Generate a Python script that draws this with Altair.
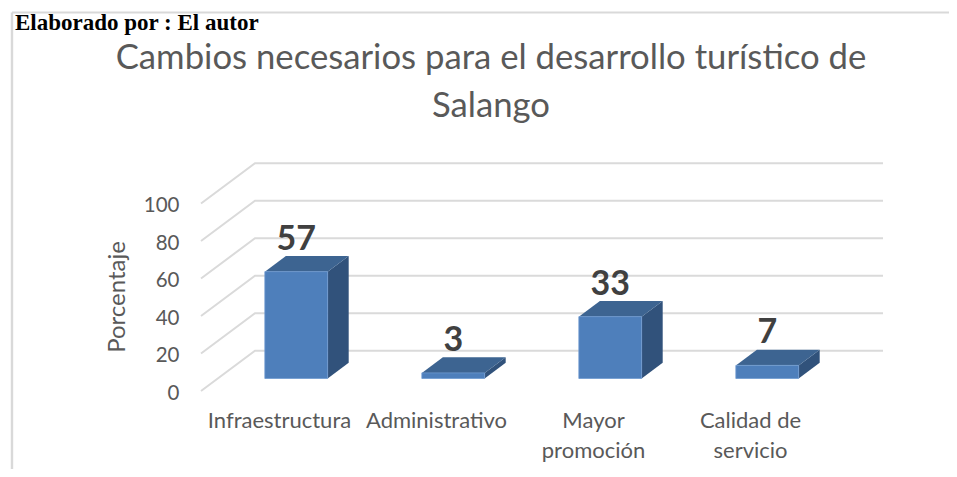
import altair as alt
import pandas as pd

categories = ["Infraestructura", "Administrativo", "Mayor promoción", "Calidad de servicio"]
category_lines = [["Infraestructura"], ["Administrativo"], ["Mayor", "promoción"], ["Calidad de", "servicio"]]
values = [57, 3, 33, 7]
y_ticks = [0, 20, 40, 60, 80, 100]

W, H = 941, 461
PX_X, PX_Y = 157.0, 1.875      # px per category, px per percent
X0, Y0 = 201 - 8, 391 - 8      # svg position of the front-floor origin
xdom = [-X0 / PX_X, (W - X0) / PX_X]
ydom = [(Y0 - H) / PX_Y, Y0 / PX_Y]
xs = alt.Scale(domain=xdom, range=[0, W], nice=False, zero=False)
ys = alt.Scale(domain=ydom, range=[H, 0], nice=False, zero=False)

# Oblique projection of the 3-D chart: shift per unit of depth
DX, DY = 54 / PX_X, 40.3 / PX_Y
BAR_DEPTH = 0.39
BAR_PLANE = 0.31
BAR_HALF = 0.2

def proj(cat, val, depth):
    return cat + depth * DX, val + depth * DY

# walls
rows = []
for t in y_ticks:
    for k, (c, d) in enumerate([(0, 0), (0, 1), (4, 1)]):
        x, y = proj(c, t, d)
        rows.append(dict(t=t, k=k, x=x, y=y))
grid = alt.Chart(pd.DataFrame(rows)).mark_line(color="#DADADA", strokeWidth=2, strokeJoin="miter").encode(
    x=alt.X("x:Q", scale=xs, axis=None),
    y=alt.Y("y:Q", scale=ys, axis=alt.Axis(
        values=y_ticks, orient="left", offset=-(179 - 8), labelPadding=0, labelOffset=2, ticks=False, domain=False, grid=False,
        labelFont="Lato", labelFontSize=20.5, labelColor="#595959", title=None)),
    detail="t:N", order="k:Q")

# bar faces
fr, side, top = [], [], []
for i, v in enumerate(values):
    c = i + 0.5
    l, r = c - BAR_HALF, c + BAR_HALF
    d0, d1 = BAR_PLANE, BAR_PLANE + BAR_DEPTH
    xa, yb = proj(l, 0, d0); xb, yt = proj(r, v, d0)
    fr.append(dict(x=xa, x2=xb, y=yb, y2=yt))
    for d in (d0, d1):
        x, y_low = proj(r, 0, d); _, y_up = proj(r, v, d)
        side.append(dict(i=i, x=x, y=y_low, y2=y_up))
        xl, yy = proj(l, v, d); xr, _ = proj(r, v, d)
        top.append(dict(i=i, x=xl, x2=xr, y=yy))

front = alt.Chart(pd.DataFrame(fr)).mark_rect(color="#4E7FBB", stroke="#6E9AD0", strokeWidth=0.8).encode(
    x=alt.X("x:Q", scale=xs, axis=None), x2="x2:Q", y=alt.Y("y:Q", scale=ys, axis=None), y2="y2:Q")
sides = alt.Chart(pd.DataFrame(side)).mark_area(color="#31527B", orient="vertical", opacity=1).encode(
    x=alt.X("x:Q", scale=xs, axis=None), y=alt.Y("y:Q", scale=ys, axis=None), y2="y2:Q", detail="i:N")
tops = alt.Chart(pd.DataFrame(top)).mark_area(color="#3D6491", orient="horizontal", opacity=1).encode(
    y=alt.Y("y:Q", scale=ys, axis=None), x=alt.X("x:Q", scale=xs, axis=None), x2="x2:Q", detail="i:N")

# data labels
lab = pd.DataFrame([dict(x=proj(i + 0.5, v, BAR_PLANE)[0], y=proj(i + 0.5, v, BAR_PLANE)[1], t=str(v))
                    for i, v in enumerate(values)])
data_labels = alt.Chart(lab).mark_text(font="Lato", fontSize=34, fontWeight="bold", color="#404040", yOffset=-32).encode(
    x=alt.X("x:Q", scale=xs, axis=None), y=alt.Y("y:Q", scale=ys, axis=None), text="t:N")

# category labels
cl = []
for i, lines in enumerate(category_lines):
    for n, s in enumerate(lines):
        cl.append(dict(x=i + 0.5, n=n, t=s))
cat_labels = alt.Chart(pd.DataFrame(cl)).mark_text(font="Lato", fontSize=22, color="#595959").encode(
    x=alt.X("x:Q", scale=xs, axis=None),
    y=alt.value(421 - 8),
    yOffset=alt.YOffset("n:Q", scale=alt.Scale(domain=[0, 1], range=[0, 30])),
    text="t:N")

title_lines = ["Cambios necesarios para el desarrollo turístico de", "Salango"]
title_df = pd.DataFrame({"t": title_lines, "py": [58.5 - 8, 106.5 - 8]})
title = alt.Chart(title_df).mark_text(font="Lato", fontSize=34.7, color="#595959").encode(
    x=alt.value(491 - 8), y=alt.Y("py:Q", scale=alt.Scale(domain=[0, H], range=[0, H]), axis=None), text="t:N")

ytitle = alt.Chart(pd.DataFrame({"t": ["Porcentaje"]})).mark_text(
    font="Lato", fontSize=24, color="#595959", angle=270).encode(
    x=alt.value(118 - 8), y=alt.value(297 - 8), text="t:N")

caption = alt.Chart(pd.DataFrame({"t": ["Elaborado por : El autor"]})).mark_text(
    font="Liberation Serif", fontSize=23, fontWeight="bold", color="#000000", align="left", baseline="alphabetic").encode(
    x=alt.value(15 - 8), y=alt.value(30 - 8), text="t:N")

frame_l = alt.Chart(pd.DataFrame({"a": [0]})).mark_rule(color="#D9D9D9", strokeWidth=2.4).encode(
    x=alt.value(12 - 8), y=alt.value(12.5 - 8), y2=alt.value(H))
frame_t = alt.Chart(pd.DataFrame({"a": [0]})).mark_rule(color="#D9D9D9", strokeWidth=1.8).encode(
    y=alt.value(12.5 - 8), x=alt.value(12 - 8), x2=alt.value(W))

chart = alt.layer(frame_l, frame_t, caption, grid, sides, tops, front, data_labels, cat_labels, ytitle, title).resolve_scale(
    y="independent", yOffset="independent"
).properties(width=W, height=H, padding=0, autosize=alt.AutoSizeParams(type="none"), background="white"
).configure_view(stroke=None)

chart.save("out.html", embed_options={"renderer": "svg", "actions": False})
